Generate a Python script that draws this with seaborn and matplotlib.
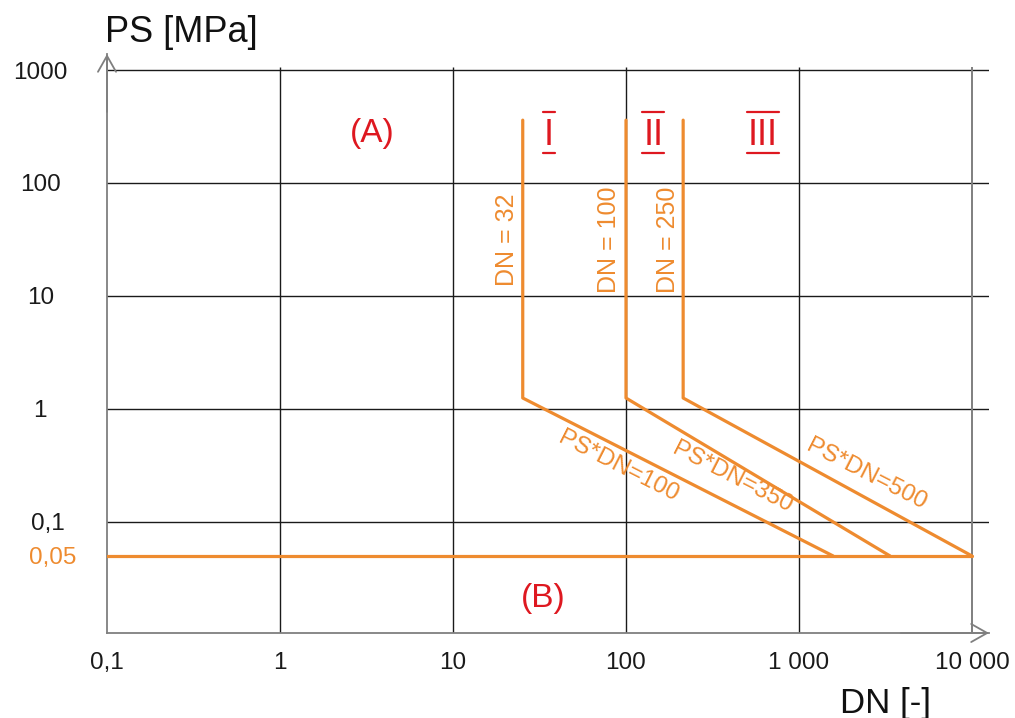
import numpy as np
import pandas as pd
import matplotlib
matplotlib.use("Agg")
import matplotlib.pyplot as plt
import seaborn as sns
from matplotlib.lines import Line2D
from matplotlib.transforms import IdentityTransform, ScaledTranslation

# ---------------- data ----------------
class_names = ["I", "II", "III"]
dn_limit = [25.3, 100, 214]          # vertical boundary of each class (DN)
ps_top = 360                          # top of the vertical boundaries (MPa)
ps_knee = 1.25                        # where the vertical boundary turns into PS*DN line
dn_end = [1575, 3360, 10000]          # DN where the PS*DN line meets PS = 0.05
ps_min = 0.05
dn_min = 0.1
dn_max = 10000
dn_labels = ["DN = 32", "DN = 100", "DN = 250"]
psdn_labels = ["PS*DN=100", "PS*DN=350", "PS*DN=500"]
x_ticks = [0.1, 1, 10, 100, 1000, 10000]
x_ticklabels = ["0,1", "1", "10", "100", "1 000", "10 000"]
y_ticks = [0.05, 0.1, 1, 10, 100, 1000]
y_ticklabels = ["0,05", "0,1", "1", "10", "100", "1000"]
grid_x = [1, 10, 100, 1000]
grid_y = [0.1, 1, 10, 100, 1000]

# label anchor positions (data coords)
dn_label_pos = [(20.6, 31.3), (79.5, 31.3), (176, 31.3)]
psdn_label_pos = [(89.9, 0.307), (410, 0.245), (2440, 0.261)]
roman_pos = [(35.9, 217), (144, 217), (619, 217)]
region_labels = ["(A)", "(B)"]
region_pos = [(3.4, 277), (33.1, 0.0212)]

ORANGE = "#EE8B2F"
RED = "#DE1820"
GRAY = "#7f7f7f"
DARK = "#1a1a1a"

# ------------- build the line table -------------
rows = []
for name, x0, x1 in zip(class_names, dn_limit, dn_end):
    pts = [(x0, ps_top), (x0, ps_knee), (x1, ps_min)]
    for k, (x, y) in enumerate(pts):
        rows.append({"curve": name, "order": k, "DN": x, "PS": y})
for k, x in enumerate([dn_min, dn_max]):
    rows.append({"curve": "base", "order": k, "DN": x, "PS": ps_min})
df = pd.DataFrame(rows)

# ---------------- figure ----------------
sns.set_style("white")
plt.rcParams["font.family"] = ["Liberation Sans", "DejaVu Sans"]

fig = plt.figure(figsize=(10.15, 7.18), dpi=100)
ax = fig.add_axes([107 / 1015, (718 - 633) / 718, (989 - 107) / 1015, (633 - 54) / 718])
ax.set_xscale("log")
ax.set_yscale("log")
ylo, yhi = 0.0104, 1386
ax.set_xlim(0.1, 12540)
ax.set_ylim(ylo, yhi)

# grid
for y in grid_y:
    ax.axhline(y, color=DARK, lw=1.0, zorder=1)
ax.vlines(grid_x, ylo, 1063, color=DARK, lw=1.0, zorder=1)
ax.vlines([dn_max], ylo, 1063, color=GRAY, lw=1.4, zorder=1)

sns.lineplot(data=df, x="DN", y="PS", units="curve", estimator=None, sort=False,
             color=ORANGE, lw=2.3, ax=ax, zorder=3, legend=False)

# spines
for s in ["top", "right"]:
    ax.spines[s].set_visible(False)
for s in ["left", "bottom"]:
    ax.spines[s].set_color(GRAY)
    ax.spines[s].set_linewidth(1.3)
arrow = dict(arrowstyle="->,head_length=1.15,head_width=0.65", color=GRAY, lw=1.3,
             shrinkA=0, shrinkB=0, mutation_scale=10)
ax.annotate("", xy=(0, 1), xycoords="axes fraction", xytext=(0, 0.9), arrowprops=arrow)
ax.annotate("", xy=(1, 0), xycoords="axes fraction", xytext=(0.9, 0), arrowprops=arrow)

# ticks
ax.set_xticks(x_ticks)
ax.set_xticklabels(x_ticklabels)
ax.set_yticks(y_ticks)
ax.set_yticklabels(y_ticklabels)
ax.minorticks_off()
ax.tick_params(axis="both", length=0, labelsize=17.5, colors="#1a1a1a")
ax.tick_params(axis="x", pad=14)
ax.tick_params(axis="y", pad=48)
shifts = {"0,1": 8, "0,05": 12}
for lab in ax.get_yticklabels():
    lab.set_horizontalalignment("center")
    t = lab.get_text()
    if t in shifts:
        lab.set_transform(lab.get_transform() + ScaledTranslation(shifts[t] / 100, 0, fig.dpi_scale_trans))
    if t == "0,05":
        lab.set_color(ORANGE)
ax.set_xlabel("")
ax.set_ylabel("")

# axis titles
fig.text(105 / 1015, 1 - 42 / 718, "PS [MPa]", fontsize=26, va="baseline", ha="left", color="#111111")
fig.text(840 / 1015, 1 - 713 / 718, "DN [-]", fontsize=25, va="baseline", ha="left", color="#111111")

# orange labels
for txt, (x, y) in zip(dn_labels, dn_label_pos):
    ax.text(x, y, txt, rotation=90, ha="center", va="center", fontsize=18, color=ORANGE)
for txt, (x, y) in zip(psdn_labels, psdn_label_pos):
    ax.text(x, y, txt, rotation=-27, ha="center", va="center", fontsize=17.5, color=ORANGE,
            rotation_mode="anchor")

# region labels
for txt, (x, y) in zip(region_labels, region_pos):
    ax.text(x, y, txt, ha="center", va="center", fontsize=24, color=RED)

# roman numerals with over/under bars
renderer = fig.canvas.get_renderer()
for txt, (x, y) in zip(class_names, roman_pos):
    t = ax.text(x, y, txt, ha="center", va="baseline", fontsize=26, color=RED)
    bb = t.get_window_extent(renderer=renderer)
    bx, by = ax.transData.transform((x, y))
    x0, x1 = bb.x0 - 1, bb.x1 + 1
    for yy in (by - 8, by + 33):
        fig.add_artist(Line2D([x0, x1], [yy, yy], color=RED, lw=1.6,
                              transform=IdentityTransform()))

fig.savefig("out.png", dpi=100)
